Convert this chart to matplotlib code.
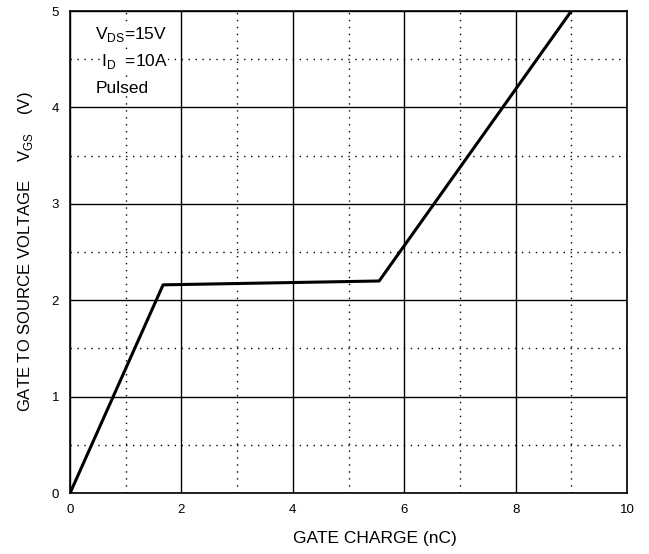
import matplotlib
matplotlib.use("Agg")
import matplotlib.pyplot as plt
import numpy as np

plt.rcParams['font.family'] = ['Liberation Sans', 'DejaVu Sans']

# gate charge curve
qg = [0.0, 1.67, 5.55, 9.0]
vgs = [0.0, 2.16, 2.20, 5.0]

fig = plt.figure(figsize=(6.49, 5.54), dpi=100)
ax = fig.add_axes([0.108, 0.110, 0.858, 0.870])

ax.set_xlim(0, 10)
ax.set_ylim(0, 5)
ax.set_xticks([0, 2, 4, 6, 8, 10])
ax.set_yticks([0, 1, 2, 3, 4, 5])
ax.set_xticks([1, 3, 5, 7, 9], minor=True)
ax.set_yticks([0.5, 1.5, 2.5, 3.5, 4.5], minor=True)
ax.grid(which='major', color='black', linewidth=1.0)
ax.grid(which='minor', color='black', linewidth=1.0, linestyle=(0, (1, 4)))
ax.tick_params(which='both', length=0, labelsize=9.5, pad=8)

ax.plot(qg, vgs, color='black', linewidth=2.2, zorder=5)

for s in ax.spines.values():
    s.set_linewidth(1.2)

ax.set_xlabel('GATE CHARGE (nC)', fontsize=12.5)
ax.xaxis.set_label_coords(0.548, -0.079)
ax.set_ylabel(r'GATE TO SOURCE VOLTAGE    V$_{\mathregular{GS}}$    (V)', fontsize=12, labelpad=12)

ax.text(0.45, 4.76, r'V$_{\mathregular{DS}}$=15V', fontsize=12.5, va='center',
        bbox=dict(facecolor='white', edgecolor='none', pad=0.5), zorder=6)
ax.text(0.55, 4.48, r'I$_{\mathregular{D}}$  =10A', fontsize=12.5, va='center',
        bbox=dict(facecolor='white', edgecolor='none', pad=0.5), zorder=6)
ax.text(0.45, 4.2, 'Pulsed', fontsize=12.5, va='center',
        bbox=dict(facecolor='white', edgecolor='none', pad=0.5), zorder=6)

fig.savefig('out.png', dpi=100)
